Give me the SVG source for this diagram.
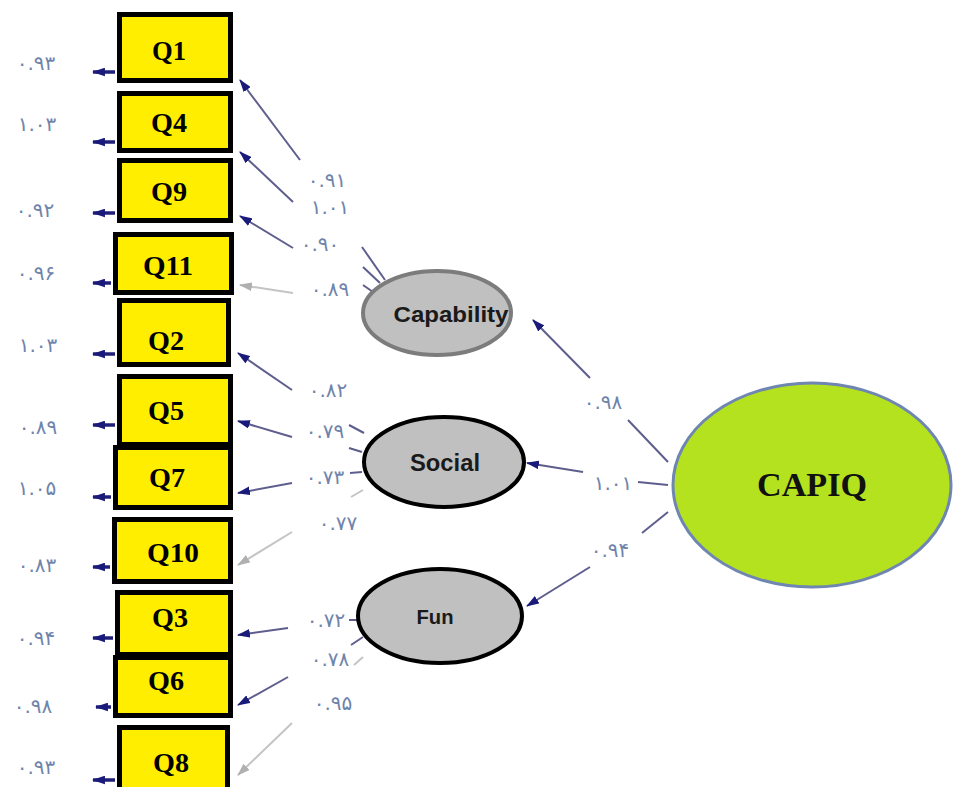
<svg xmlns="http://www.w3.org/2000/svg" width="953" height="787" viewBox="0 0 953 787">
<style>
.box{fill:#ffee00;stroke:#000;stroke-width:5}
.q{font-family:"Liberation Serif","Times New Roman",serif;font-weight:bold;font-size:28px;fill:#000;text-anchor:middle}
.lbl{font-family:"DejaVu Sans","Noto Sans",sans-serif;font-size:20px;fill:#6f84ab;text-anchor:middle;dominant-baseline:central}
.ld{stroke:#5e5e8e;stroke-width:2;fill:none}
.lg{stroke:#c4c4c4;stroke-width:2;fill:none}
.err{stroke:#1f1f78;stroke-width:3.5;fill:none}
.lat{font-family:"Liberation Sans",Arial,sans-serif;font-weight:bold;fill:#1a1a1a;text-anchor:middle}
</style>
<defs>
<marker id="ah" viewBox="0 0 12 8" refX="11" refY="4" markerWidth="13" markerHeight="9" markerUnits="userSpaceOnUse" orient="auto">
<path d="M0,0 L12,4 L0,8 z" fill="#1a1a7a"/>
</marker>
<marker id="ahg" viewBox="0 0 12 8" refX="11" refY="4" markerWidth="13" markerHeight="9" markerUnits="userSpaceOnUse" orient="auto">
<path d="M0,0 L12,4 L0,8 z" fill="#b0b0b0"/>
</marker>
</defs>
<rect width="953" height="787" fill="#fff"/>

<g id="connectors">
<line class="err" x1="115" y1="72" x2="93" y2="72" marker-end="url(#ah)"/>
<line class="err" x1="115" y1="142" x2="93" y2="142" marker-end="url(#ah)"/>
<line class="err" x1="115" y1="213" x2="93" y2="213" marker-end="url(#ah)"/>
<line class="err" x1="111" y1="283" x2="93" y2="283" marker-end="url(#ah)"/>
<line class="err" x1="115" y1="354" x2="93" y2="354" marker-end="url(#ah)"/>
<line class="err" x1="115" y1="425" x2="93" y2="425" marker-end="url(#ah)"/>
<line class="err" x1="111" y1="497" x2="93" y2="497" marker-end="url(#ah)"/>
<line class="err" x1="110" y1="567" x2="93" y2="567" marker-end="url(#ah)"/>
<line class="err" x1="113" y1="638" x2="93" y2="638" marker-end="url(#ah)"/>
<line class="err" x1="111" y1="707" x2="96" y2="707" marker-end="url(#ah)"/>
<line class="err" x1="115" y1="780" x2="93" y2="780" marker-end="url(#ah)"/>
<line class="ld" x1="300" y1="160" x2="240" y2="80" marker-end="url(#ah)"/>
<line class="ld" x1="293" y1="202" x2="240" y2="152" marker-end="url(#ah)"/>
<line class="ld" x1="293" y1="248" x2="240" y2="216" marker-end="url(#ah)"/>
<line class="lg" x1="293" y1="293" x2="240" y2="285" marker-end="url(#ahg)"/>
<line class="ld" x1="362" y1="247" x2="385" y2="280"/>
<line class="ld" x1="363" y1="267" x2="380" y2="283"/>
<line class="ld" x1="363" y1="285" x2="373" y2="292"/>
<line class="ld" x1="292" y1="390" x2="238" y2="353" marker-end="url(#ah)"/>
<line class="ld" x1="292" y1="437" x2="238" y2="421" marker-end="url(#ah)"/>
<line class="ld" x1="292" y1="483" x2="238" y2="493" marker-end="url(#ah)"/>
<line class="lg" x1="292" y1="532" x2="238" y2="565" marker-end="url(#ahg)"/>
<line class="ld" x1="349" y1="425" x2="364" y2="433"/>
<line class="ld" x1="349" y1="448" x2="362" y2="452"/>
<line class="ld" x1="350" y1="473" x2="362" y2="472"/>
<line class="lg" x1="351" y1="497" x2="363" y2="490"/>
<line class="ld" x1="288" y1="628" x2="238" y2="635" marker-end="url(#ah)"/>
<line class="ld" x1="288" y1="677" x2="238" y2="705" marker-end="url(#ah)"/>
<line class="lg" x1="292" y1="723" x2="238" y2="775" marker-end="url(#ahg)"/>
<line class="ld" x1="349" y1="620" x2="358" y2="620"/>
<line class="ld" x1="351" y1="645" x2="363" y2="637"/>
<line class="lg" x1="354" y1="665" x2="363" y2="657"/>
<line class="ld" x1="668" y1="462" x2="628" y2="420"/>
<line class="ld" x1="590" y1="378" x2="533" y2="320" marker-end="url(#ah)"/>
<line class="ld" x1="668" y1="485" x2="638" y2="482"/>
<line class="ld" x1="583" y1="472" x2="527" y2="463" marker-end="url(#ah)"/>
<line class="ld" x1="668" y1="512" x2="642" y2="533"/>
<line class="ld" x1="590" y1="567" x2="527" y2="606" marker-end="url(#ah)"/>
</g>

<g id="labels">
<text class="lbl" x="36" y="63">۰.۹۳</text>
<text class="lbl" x="37" y="124">۱.۰۳</text>
<text class="lbl" x="35" y="210">۰.۹۲</text>
<text class="lbl" x="36" y="273">۰.۹۶</text>
<text class="lbl" x="38" y="345">۱.۰۳</text>
<text class="lbl" x="38" y="427">۰.۸۹</text>
<text class="lbl" x="37" y="488">۱.۰۵</text>
<text class="lbl" x="37" y="565">۰.۸۳</text>
<text class="lbl" x="36" y="638">۰.۹۴</text>
<text class="lbl" x="33" y="706">۰.۹۸</text>
<text class="lbl" x="36" y="767">۰.۹۳</text>
<text class="lbl" x="327" y="180">۰.۹۱</text>
<text class="lbl" x="330" y="207">۱.۰۱</text>
<text class="lbl" x="320" y="244">۰.۹۰</text>
<text class="lbl" x="330" y="289">۰.۸۹</text>
<text class="lbl" x="328" y="390">۰.۸۲</text>
<text class="lbl" x="325" y="431">۰.۷۹</text>
<text class="lbl" x="325" y="477">۰.۷۳</text>
<text class="lbl" x="338" y="523">۰.۷۷</text>
<text class="lbl" x="326" y="620">۰.۷۲</text>
<text class="lbl" x="330" y="659">۰.۷۸</text>
<text class="lbl" x="333" y="703">۰.۹۵</text>
<text class="lbl" x="603" y="402">۰.۹۸</text>
<text class="lbl" x="613" y="483">۱.۰۱</text>
<text class="lbl" x="610" y="550">۰.۹۴</text>
</g>

<g id="Q1"><rect class="box" x="119.5" y="14.5" width="111" height="66"/><text class="q" x="169" y="60" textLength="34" lengthAdjust="spacingAndGlyphs">Q1</text></g>
<g id="Q4"><rect class="box" x="119.5" y="93.5" width="111" height="57"/><text class="q" x="169" y="132" textLength="36" lengthAdjust="spacingAndGlyphs">Q4</text></g>
<g id="Q9"><rect class="box" x="119.5" y="160.5" width="111" height="60"/><text class="q" x="169" y="201" textLength="36" lengthAdjust="spacingAndGlyphs">Q9</text></g>
<g id="Q11"><rect class="box" x="115.5" y="234.5" width="116" height="58"/><text class="q" x="168" y="275" textLength="50" lengthAdjust="spacingAndGlyphs">Q11</text></g>
<g id="Q2"><rect class="box" x="119.5" y="300.5" width="109" height="64"/><text class="q" x="166" y="350" textLength="36" lengthAdjust="spacingAndGlyphs">Q2</text></g>
<g id="Q5"><rect class="box" x="119.5" y="376.5" width="111" height="68"/><text class="q" x="166" y="420" textLength="36" lengthAdjust="spacingAndGlyphs">Q5</text></g>
<g id="Q7"><rect class="box" x="115.5" y="447.5" width="115" height="60"/><text class="q" x="167" y="487" textLength="36" lengthAdjust="spacingAndGlyphs">Q7</text></g>
<g id="Q10"><rect class="box" x="114.5" y="519.5" width="116" height="62"/><text class="q" x="173" y="562" textLength="52" lengthAdjust="spacingAndGlyphs">Q10</text></g>
<g id="Q3"><rect class="box" x="117.5" y="592.5" width="113" height="62"/><text class="q" x="170" y="627" textLength="36" lengthAdjust="spacingAndGlyphs">Q3</text></g>
<g id="Q6"><rect class="box" x="115.5" y="657.5" width="115" height="58"/><text class="q" x="166" y="690" textLength="36" lengthAdjust="spacingAndGlyphs">Q6</text></g>
<g id="Q8"><rect class="box" x="119.5" y="727.5" width="108" height="66"/><text class="q" x="171" y="772" textLength="36" lengthAdjust="spacingAndGlyphs">Q8</text></g>

<g id="Capability"><ellipse cx="437" cy="313" rx="74" ry="42" fill="#c0c0c0" stroke="#7c7c7c" stroke-width="4"/><text class="lat" x="451" y="322" font-size="22" textLength="115" lengthAdjust="spacingAndGlyphs">Capability</text></g>
<g id="Social"><ellipse cx="444" cy="462" rx="80" ry="45" fill="#c0c0c0" stroke="#000" stroke-width="4"/><text class="lat" x="445" y="471" font-size="24" textLength="70" lengthAdjust="spacingAndGlyphs">Social</text></g>
<g id="Fun"><ellipse cx="440" cy="616" rx="82" ry="47" fill="#c0c0c0" stroke="#000" stroke-width="4"/><text class="lat" x="435" y="624" font-size="20" textLength="37" lengthAdjust="spacingAndGlyphs">Fun</text></g>
<g id="CAPIQ"><ellipse cx="812" cy="485" rx="139" ry="102" fill="#b5e21e" stroke="#6f86b2" stroke-width="3"/><text x="812" y="496" font-family="Liberation Serif,'Times New Roman',serif" font-weight="bold" font-size="33" text-anchor="middle" fill="#111" textLength="110" lengthAdjust="spacingAndGlyphs">CAPIQ</text></g>
</svg>
